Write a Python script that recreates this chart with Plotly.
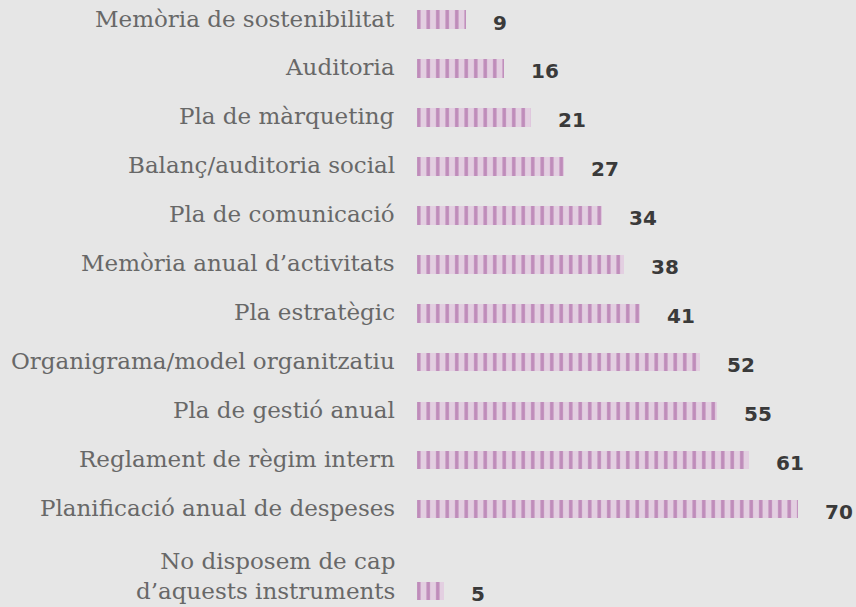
import plotly.graph_objects as go

categories = [
    "Memòria de sostenibilitat",
    "Auditoria",
    "Pla de màrqueting",
    "Balanç/auditoria social",
    "Pla de comunicació",
    "Memòria anual d’activitats",
    "Pla estratègic",
    "Organigrama/model organitzatiu",
    "Pla de gestió anual",
    "Reglament de règim intern",
    "Planificació anual de despeses",
    "No disposem de cap<br>d’aquests instruments",
]
values = [9, 16, 21, 27, 34, 38, 41, 52, 55, 61, 70, 5]

# layout helpers (not data)
n = len(categories)
EXTRA_GAP = 0.675  # extra space before the last row
row_pos = [i + (EXTRA_GAP if i == n - 1 else 0) for i in range(n)]

BG = "#e6e6e6"
LIGHT = "#e3cfe1"
DARK = "#bf8cba"
LABEL_COLOR = "#686868"
VALUE_COLOR = "#3a3a3a"

fig = go.Figure()
fig.add_trace(go.Bar(
    x=values,
    y=row_pos,
    orientation="h",
    width=0.38,
    marker=dict(
        color=LIGHT,
        line=dict(width=0),
        pattern=dict(shape="|", fgcolor=DARK, bgcolor=LIGHT, size=9.5,
                     solidity=0.37, fillmode="replace"),
    ),
    hoverinfo="skip",
))

annotations = []
for i, (cat, val, yp) in enumerate(zip(categories, values, row_pos)):
    two_line = "<br>" in cat
    annotations.append(dict(
        x=0, y=yp, xref="paper", yref="y",
        text=cat, showarrow=False, xanchor="right", yanchor="middle",
        align="right", xshift=-17, yshift=(14 if two_line else 0) + 1,
        font=dict(family="DejaVu Serif", size=23, color=LABEL_COLOR),
    ))
    annotations.append(dict(
        x=val, y=yp, xref="x", yref="y",
        text=f"<b>{val}</b>", showarrow=False, xanchor="left", yanchor="middle",
        xshift=25, yshift=-3,
        font=dict(family="DejaVu Sans", size=20, color=VALUE_COLOR),
    ))

PX_PER_UNIT = 5.447
ROW_PX = 48.95
left_pad_units = 3 / PX_PER_UNIT
margin_l = 414
plot_w = 856 - margin_l
x_max = plot_w / PX_PER_UNIT - left_pad_units
y_top = -19.5 / ROW_PX
y_bot = y_top + 607 / ROW_PX

fig.update_layout(
    width=856, height=607,
    paper_bgcolor=BG, plot_bgcolor=BG,
    margin=dict(l=margin_l, r=0, t=0, b=0),
    showlegend=False,
    xaxis=dict(range=[-left_pad_units, x_max], visible=False, fixedrange=True),
    yaxis=dict(range=[y_bot, y_top], visible=False, fixedrange=True),
    annotations=annotations,
    bargap=0,
)

fig.write_html(
    "out.html",
    config={"displayModeBar": False},
    post_script="document.body.style.margin='0';document.body.style.padding='0';"
                "document.documentElement.style.background='#e6e6e6';",
)
